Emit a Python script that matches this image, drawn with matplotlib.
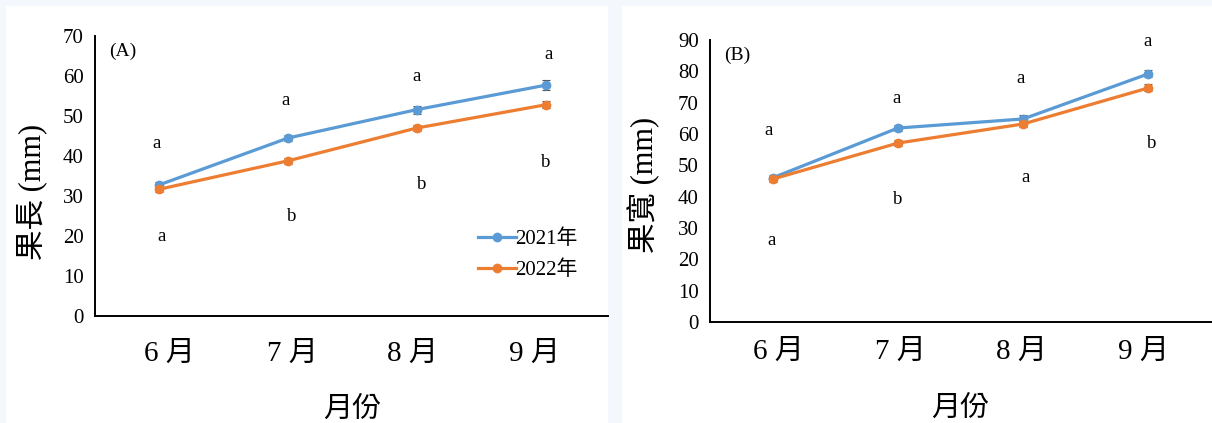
import matplotlib
matplotlib.use("Agg")
import matplotlib.pyplot as plt
from matplotlib.patches import Rectangle
from matplotlib.lines import Line2D
from matplotlib.transforms import ScaledTranslation

months = ["6 月", "7 月", "8 月", "9 月"]
series_names = ["2021年", "2022年"]

length_2021 = [32.8, 44.5, 51.6, 57.7]
length_2022 = [31.7, 38.8, 47.0, 52.8]
length_err_2021 = [0.8, 0.8, 1.0, 1.3]
length_err_2022 = [0.8, 0.8, 0.8, 0.9]
length_letters_2021 = ["a", "a", "a", "a"]
length_letters_2022 = ["a", "b", "b", "b"]
length_letter_y_2021 = [43.2, 53.8, 60.0, 65.5]
length_letter_y_2022 = [20.0, 25.0, 33.0, 38.5]

width_2021 = [46.0, 61.9, 64.8, 79.2]
width_2022 = [45.6, 57.1, 63.2, 74.7]
width_err_2021 = [0.8, 0.9, 1.2, 1.1]
width_err_2022 = [0.8, 0.9, 1.0, 1.1]
width_letters_2021 = ["a", "a", "a", "a"]
width_letters_2022 = ["a", "b", "a", "b"]
width_letter_y_2021 = [61.0, 71.2, 77.6, 89.4]
width_letter_y_2022 = [25.9, 39.0, 46.0, 57.0]

BLUE = "#5b9bd5"
ORANGE = "#ed7d31"
MIXED = ["Liberation Serif", "Noto Sans CJK TC"]
SERIF = ["Liberation Serif"]

W, H = 1212, 423
fig = plt.figure(figsize=(W / 100, H / 100), dpi=100)
fig.patch.set_facecolor("#f4f8fc")

# white card behind each panel
for x0, x1 in [(6, 608), (622, 1212)]:
    fig.patches.append(Rectangle((x0 / W, 0), (x1 - x0) / W, (H - 6) / H,
                                 transform=fig.transFigure, facecolor="white",
                                 edgecolor="none", zorder=-10))


def panel(rect, clip_right, vals1, vals2, err1, err2, let1, let2, ly1, ly2,
          ymax, step, ylabel, tag, legend, xoff1, xoff2, tick_dx, xpad,
          xlabelpad, ylabel_xy):
    l, t, r, b = rect
    ax = fig.add_axes([l / W, 1 - b / H, (r - l) / W, (b - t) / H])
    ax.set_facecolor("none")
    ax.set_zorder(5)
    x = list(range(len(months)))
    for vals, err, color, name in [(vals1, err1, BLUE, series_names[0]),
                                   (vals2, err2, ORANGE, series_names[1])]:
        ax.errorbar(x, vals, yerr=err, color=color, lw=2.3, marker="o",
                    ms=6, ecolor="#555555", elinewidth=0.8, capsize=3,
                    capthick=0.8, label=name, zorder=3)
    for i in x:
        ax.text(i + xoff1[i], ly1[i], let1[i], ha="center", va="center",
                fontsize=13.5, family=SERIF)
        ax.text(i + xoff2[i], ly2[i], let2[i], ha="center", va="center",
                fontsize=13.5, family=SERIF)
    ax.set_xlim(-0.5, 3.5)
    ax.set_ylim(0, ymax)
    ax.set_yticks(range(0, ymax + 1, step))
    ax.set_xticks(x)
    ax.tick_params(axis="both", length=0)
    ax.tick_params(axis="x", pad=xpad)
    ax.tick_params(axis="y", pad=8)
    ax.set_xticklabels(months, family=MIXED, fontsize=21)
    for lab, dx in zip(ax.get_xticklabels(), tick_dx):
        lab.set_transform(lab.get_transform() +
                          ScaledTranslation(dx / 100, 0, fig.dpi_scale_trans))
    for lab in ax.get_yticklabels():
        lab.set_family(SERIF)
        lab.set_fontsize(15)
    for s in ["top", "right"]:
        ax.spines[s].set_visible(False)
    for s in ["left", "bottom"]:
        ax.spines[s].set_linewidth(1.4)
    # the bottom axis line runs to the edge of the white card
    ax.spines["bottom"].set_bounds(-0.5, -0.5 + 4 * (clip_right - l) / (r - l))
    ax.set_ylabel(ylabel, family=MIXED, fontsize=22)
    ax.yaxis.set_label_coords(*ylabel_xy)
    ax.set_xlabel("月份", family=MIXED, fontsize=21, labelpad=xlabelpad)
    ax.text(0.028, 0.975, tag, transform=ax.transAxes, ha="left", va="top",
            fontsize=14, family=SERIF)
    if legend:
        handles = [Line2D([], [], color=BLUE, lw=2.3, marker="o", ms=6),
                   Line2D([], [], color=ORANGE, lw=2.3, marker="o", ms=6)]
        ax.legend(handles, series_names, loc="lower right",
                  bbox_to_anchor=(0.958, 0.09), frameon=False, borderpad=0,
                  prop={"family": MIXED, "size": 15}, handlelength=1.8,
                  handletextpad=0.0, labelspacing=0.55)
    return ax


panel((95, 36, 610, 316), 608, length_2021, length_2022, length_err_2021,
      length_err_2022, length_letters_2021, length_letters_2022,
      length_letter_y_2021, length_letter_y_2022, 70, 10, "果長 (mm)", "(A)",
      True, [-0.02, -0.02, 0.0, 0.02], [0.02, 0.03, 0.04, 0.0],
      [10, 4, -4, -11], 18, 22, (-0.093, 0.443))
panel((710, 40, 1211, 322), 1211, width_2021, width_2022, width_err_2021,
      width_err_2022, width_letters_2021, width_letters_2022,
      width_letter_y_2021, width_letter_y_2022, 90, 10, "果寬 (mm)", "(B)",
      False, [-0.03, -0.01, -0.02, -0.01], [-0.01, 0.0, 0.02, 0.03],
      [6, 3, -2, -5], 12, 23, (-0.1, 0.486))

fig.savefig("out.png", dpi=100, facecolor=fig.get_facecolor())
